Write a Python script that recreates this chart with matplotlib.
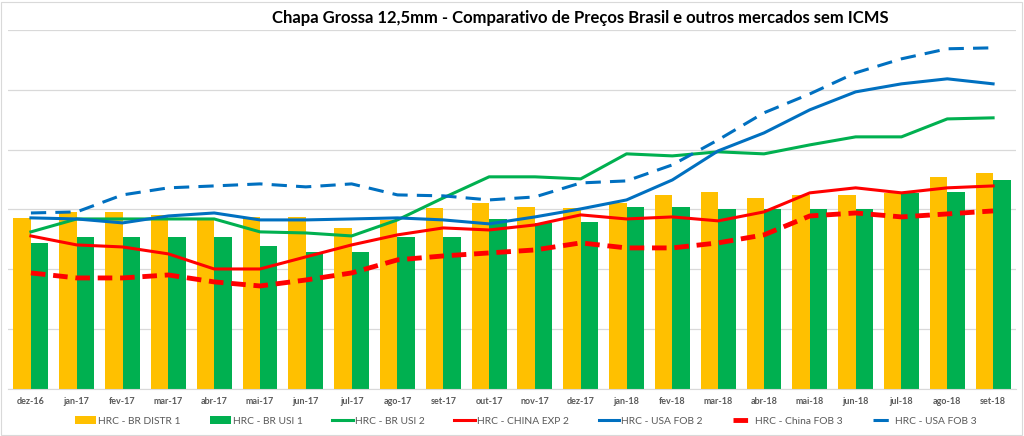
import matplotlib.pyplot as plt
from matplotlib.patches import Rectangle
import numpy as np

meses = ['dez-16', 'jan-17', 'fev-17', 'mar-17', 'abr-17', 'mai-17', 'jun-17', 'jul-17',
         'ago-17', 'set-17', 'out-17', 'nov-17', 'dez-17', 'jan-18', 'fev-18', 'mar-18',
         'abr-18', 'mai-18', 'jun-18', 'jul-18', 'ago-18', 'set-18']

br_distr1 = [1430, 1480, 1480, 1455, 1430, 1438, 1438, 1346, 1413, 1513, 1555,
             1522, 1513, 1555, 1622, 1647, 1597, 1622, 1622, 1639, 1773, 1806]
br_usi1 = [1221, 1271, 1271, 1271, 1271, 1196, 1145, 1145, 1271, 1271, 1421,
           1388, 1396, 1522, 1522, 1505, 1505, 1505, 1505, 1639, 1647, 1747]
br_usi2 = [1313, 1421, 1421, 1421, 1421, 1313, 1304, 1279, 1413, 1597, 1773,
           1773, 1756, 1965, 1948, 1982, 1965, 2040, 2107, 2107, 2257, 2266]
china_exp2 = [1279, 1204, 1187, 1129, 1003, 1003, 1104, 1204, 1288, 1346, 1329,
              1371, 1455, 1421, 1438, 1405, 1480, 1639, 1681, 1639, 1681, 1697]
usa_fob2 = [1430, 1421, 1388, 1446, 1471, 1413, 1413, 1421, 1430, 1413, 1380,
            1438, 1505, 1580, 1747, 1990, 2140, 2333, 2483, 2550, 2592, 2550]
china_fob3 = [970, 928, 928, 953, 895, 861, 911, 970, 1079, 1112, 1137,
              1162, 1221, 1179, 1179, 1221, 1288, 1446, 1471, 1438, 1463, 1488]
usa_fob3 = [1471, 1480, 1622, 1681, 1697, 1714, 1689, 1714, 1622, 1614, 1580,
            1605, 1722, 1739, 1873, 2082, 2308, 2466, 2642, 2759, 2843, 2851]

AMARELO = '#FFC000'
VERDE = '#00B050'
VERMELHO = '#FF0000'
AZUL = '#0070C0'

fig = plt.figure(figsize=(10.24, 4.36), dpi=100)
ax = fig.add_axes([8/1024, 1-389/436, 1008/1024, 359/436])

x = np.arange(len(meses))
w = 0.38
h = []
h.append(ax.bar(x - w/2, br_distr1, w, color=AMARELO, label='HRC - BR DISTR 1', zorder=2))
h.append(ax.bar(x + w/2, br_usi1, w, color=VERDE, label='HRC - BR USI 1', zorder=2))
h += ax.plot(x, br_usi2, color=VERDE, lw=2.2, label='HRC - BR USI 2', zorder=3)
h += ax.plot(x, china_exp2, color=VERMELHO, lw=2.2, label='HRC - CHINA EXP 2', zorder=3)
h += ax.plot(x, usa_fob2, color=AZUL, lw=2.2, label='HRC - USA FOB 2', zorder=3)
h += ax.plot(x, china_fob3, color=VERMELHO, lw=3.5, ls=(0, (3, 1.6)), label='HRC - China FOB 3', zorder=3)
h += ax.plot(x, usa_fob3, color=AZUL, lw=2.2, ls=(0, (5, 3)), label='HRC - USA FOB 3', zorder=3)

ax.set_xlim(-0.5, len(meses) - 0.5)
ax.set_ylim(0, 3000)
ax.set_yticks(np.arange(0, 3001, 500))
ax.yaxis.grid(True, color='#D9D9D9', lw=0.9, zorder=0)
ax.tick_params(axis='y', left=False, labelleft=False)
ax.set_xticks(x)
ax.set_xticklabels(meses, fontsize=6.5, color='#595959', fontweight='bold', family='Lato')
ax.tick_params(axis='x', length=0, pad=6)
for s in ['top', 'right', 'left']:
    ax.spines[s].set_visible(False)
ax.spines['bottom'].set_color('#D9D9D9')

fig.text(580/1024, 1-18/436, 'Chapa Grossa 12,5mm - Comparativo de Preços Brasil e outros mercados sem ICMS',
         ha='center', va='center', fontsize=12, fontweight='bold', family='Lato', color='#000000')

leg = fig.legend(handles=h, loc='center', bbox_to_anchor=(526/1024, 1-421/436), ncol=7, frameon=False,
                 handlelength=2.0, handletextpad=0.2, columnspacing=2.9,
                 prop={'family': 'Lato', 'size': 7.4})
for t in leg.get_texts():
    t.set_color('#595959')

fig.patches.append(Rectangle((1/1024, 1/436), 1021/1024, 433/436, transform=fig.transFigure,
                             fill=False, edgecolor='#D9D9D9', lw=0.8))

fig.savefig('out.png', dpi=100)
